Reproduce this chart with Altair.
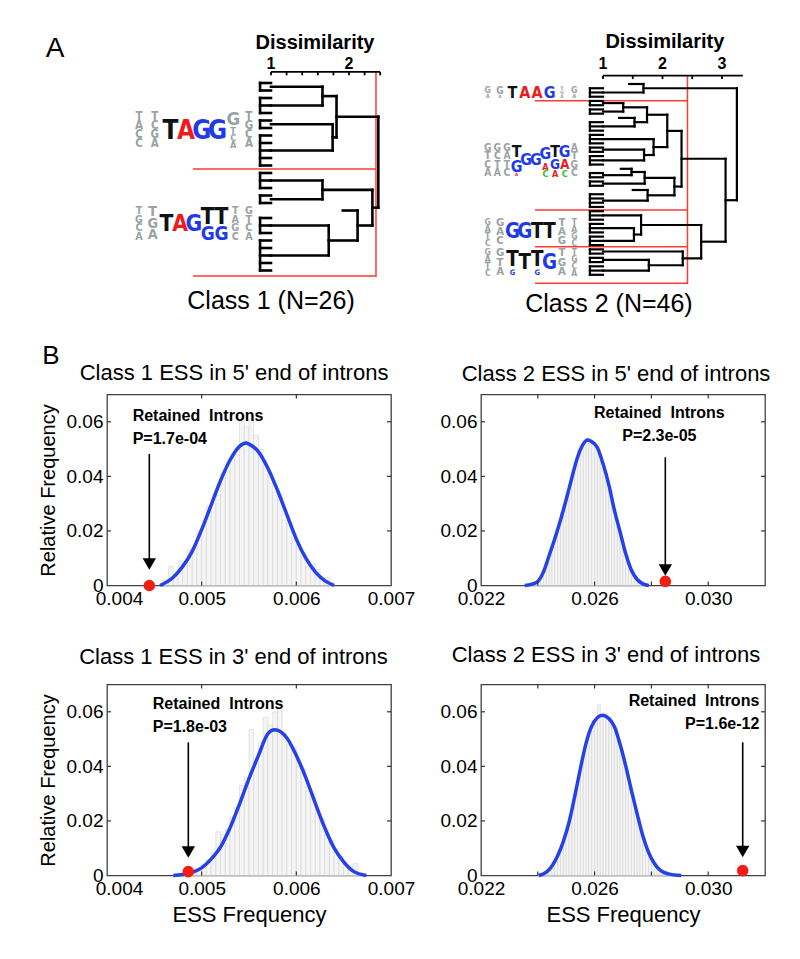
import re
import altair as alt
import pandas as pd

FONT = "Liberation Sans, Arial, Helvetica, sans-serif"
LOGO_FONT = "Liberation Sans Narrow, DejaVu Sans Condensed, Liberation Sans, Arial, sans-serif"
BLUE = "#2741e8"
RED = "#f21d14"
LINE_RED = "#ff3a30"
GRAY = "#9aa2a2"
NUC = {"A": "#ec1c1c", "G": "#1f3be8", "T": "#111111", "C": "#2fbf2f"}

W, H = 284, 191

# ------------------------------------------------------------------ Panel A data
# ('c', n): n leaves merged below dissimilarity 1, ('t', h): branch cut at h,
# (h, left, right): merge at dissimilarity h
TREE_1 = (2.376,
          (1.84, (1.66, ('c', 2), ('c', 3)), (1.79, ('c', 2), ('c', 5))),
          (2.30, (1.66, ('c', 3), ('c', 2)),
                 (2.11, ('t', 1.92), (1.74, ('c', 3), ('c', 5)))))
TREE_2 = (3.25,
          (1.68, ('t', 1.44), ('c', 3)),
          (3.06,
           (2.32,
            (2.08,
             (1.74, (1.34, ('c', 2), ('c', 2)), (1.53, ('t', 1.27), ('c', 3))),
             (1.85, ('c', 3), (1.69, ('c', 2), ('c', 3)))),
            (2.20,
             (1.70, (1.48, ('t', 1.30), ('c', 2)), ('c', 2)),
             (1.75, ('t', 1.50), ('c', 4)))),
           (2.65,
            (1.64, ('c', 3), (1.52, ('c', 3), ('c', 3))),
            (2.34, ('c', 2), (1.77, ('c', 2), ('c', 3))))))
CUT_1, CUT_2 = 2.346, 2.42
SEP_1 = [11.47, 25.73]
SEP_2 = [3.94, 29.7, 38.4, 47.0]

# sequence logos: columns (lowercase = grey flank letters), top leaf, bottom leaf
LOGOS_1 = [
    (["tacc", "tcga", "T", "A", "G", "G", "g4t2c2a2", "tgca"], 3.87, 8.8),
    (["tgca", "tga", "T", "A", "G", "T6G4", "T6G4", "tagc", "gtca"], 16.5, 21.07),
]
LOGOS_2 = [
    (["g6a4", "g7a3", "T", "A", "A", "G", "tga", "g6a4"], 0.7, 3.42),
    (["gtca", "gcta", "gatc", "T5G4A1", "G", "G", "G6A2C2", "T5G3A2", "G5A3C2", "atgc"], 14.15, 21.9),
    (["gatc", "gac", "G", "G", "T", "T", "tag", "tagc"], 31.8, 38.2),
    (["gatc", "gta", "T8G2", "T", "T8G2", "G", "tga", "tgca"], 38.9, 45.3),
]

# ------------------------------------------------------------------ Panel B data
CURVE_1X = [0.00456, 0.0047, 0.0048, 0.0049, 0.0050, 0.0051, 0.0052, 0.0053, 0.0054, 0.00547,
            0.0055, 0.0056, 0.0057, 0.0058, 0.0059, 0.0060, 0.0061, 0.0062, 0.0063, 0.0064]
CURVE_1Y = [0.0, 0.0030, 0.0070, 0.0125, 0.0205, 0.0295, 0.0385, 0.046, 0.051, 0.0522,
            0.0518, 0.049, 0.043, 0.035, 0.026, 0.017, 0.010, 0.005, 0.0018, 0.0]
BARS_1 = [0.002, 0.007, 0.004, 0.009, 0.008, 0.013, 0.014, 0.020, 0.022, 0.029, 0.030, 0.033,
          0.041, 0.042, 0.047, 0.048, 0.060, 0.058, 0.061, 0.055, 0.050, 0.044, 0.041, 0.034,
          0.033, 0.024, 0.023, 0.017, 0.015, 0.012, 0.007, 0.008, 0.006, 0.002, 0.003, 0.001]

CURVE_2X = [0.02354, 0.0238, 0.0240, 0.0242, 0.0244, 0.0246, 0.0248, 0.0250, 0.0252, 0.0254,
            0.0256, 0.02575, 0.0259, 0.0261, 0.0263, 0.0265, 0.0267, 0.0269, 0.0271, 0.0273,
            0.0275, 0.0277, 0.02791]
CURVE_2Y = [0.0, 0.0005, 0.0015, 0.005, 0.011, 0.0172, 0.0240, 0.0315, 0.0395, 0.0470,
            0.0518, 0.0533, 0.0527, 0.0505, 0.0445, 0.0370, 0.0275, 0.0195, 0.0115, 0.0055,
            0.0022, 0.0006, 0.0]
BARS_2 = [0.0006, 0.0012, 0.0020, 0.0028, 0.0058, 0.0080, 0.0118, 0.0140, 0.0185, 0.0212,
          0.0270, 0.0296, 0.0345, 0.0375, 0.0425, 0.0455, 0.0495, 0.0505, 0.0530, 0.0540,
          0.0522, 0.0525, 0.0505, 0.0495, 0.0450, 0.0425, 0.0380, 0.0345, 0.0290, 0.0250,
          0.0205, 0.0175, 0.0130, 0.0108, 0.0072, 0.0058, 0.0032, 0.0024, 0.0010, 0.0007]

CURVE_3X = [0.0047, 0.0048, 0.0049, 0.0050, 0.0051, 0.0052, 0.0053, 0.0054, 0.0055, 0.0056,
            0.0057, 0.00577, 0.0059, 0.0060, 0.0061, 0.0062, 0.0063, 0.0064, 0.0065, 0.0066,
            0.00674]
CURVE_3Y = [0.0, 0.0004, 0.0012, 0.0028, 0.006, 0.0105, 0.0175, 0.0262, 0.0355, 0.044,
            0.052, 0.0534, 0.0504, 0.0440, 0.0359, 0.0265, 0.0175, 0.0100, 0.0050, 0.0016,
            0.0]
BARS_3 = [0.0005, 0.0008, 0.0004, 0.0012, 0.0020, 0.0018, 0.0042, 0.0058, 0.0085, 0.016,
          0.0150, 0.0170, 0.0215, 0.0250, 0.0330, 0.0360, 0.0535, 0.0420, 0.0490, 0.0580,
          0.0550, 0.0600, 0.0615, 0.0520, 0.0480, 0.0470, 0.0400, 0.0390, 0.0310, 0.0300,
          0.0230, 0.0210, 0.0150, 0.0130, 0.0085, 0.0070, 0.0040, 0.0035, 0.0045, 0.0010]

CURVE_4X = [0.02403, 0.0243, 0.0245, 0.0247, 0.0249, 0.0251, 0.0253, 0.0255, 0.0257, 0.0259,
            0.02627, 0.0265, 0.0267, 0.0269, 0.0271, 0.0273, 0.0275, 0.0277, 0.0279, 0.0281,
            0.0283, 0.0286, 0.02905]
CURVE_4Y = [0.0, 0.0012, 0.0035, 0.0072, 0.0125, 0.0195, 0.029, 0.0392, 0.0485, 0.0548,
            0.0587, 0.0575, 0.0545, 0.048, 0.040, 0.031, 0.0225, 0.0145, 0.0085, 0.0045,
            0.002, 0.0006, 0.0]
BARS_4 = [0.0003, 0.0007, 0.0009, 0.0019, 0.0024, 0.0042, 0.0052, 0.0081, 0.0100, 0.0142,
          0.0170, 0.0222, 0.0255, 0.0318, 0.0360, 0.0418, 0.0450, 0.0508, 0.0530, 0.0568,
          0.0570, 0.0625, 0.0580, 0.0592, 0.0575, 0.0580, 0.0550, 0.0540, 0.0495, 0.0465,
          0.0420, 0.0385, 0.0330, 0.0295, 0.0240, 0.0210, 0.0160, 0.0135, 0.0095, 0.0078,
          0.0052, 0.0042, 0.0026, 0.0020, 0.0011, 0.0009, 0.0004, 0.0003, 0.0002, 0.0001]


# ------------------------------------------------------------------ helpers
def tree_segments(tree, comb_x):
    segs = []
    counter = [0]

    def walk(node):
        if node[0] == 'c':
            n = node[1]
            p0 = counter[0]
            counter[0] += n
            if n > 1:
                segs.append((comb_x, comb_x, p0, p0 + n - 1))
            for p in range(p0, p0 + n):
                segs.append((comb_x, 1.0, p, p))
            return p0 + (n - 1) / 2, 1.0
        if node[0] == 't':
            p = counter[0]
            counter[0] += 1
            return p, node[1]
        h, a, b = node
        ca, ha = walk(a)
        cb, hb = walk(b)
        segs.append((ha, h, ca, ca))
        segs.append((hb, h, cb, cb))
        segs.append((h, h, ca, cb))
        return (ca + cb) / 2, h

    walk(tree)
    return pd.DataFrame(segs, columns=["x", "x2", "y", "y2"])


def logo_rows(logos, g):
    leaf_px = H / (g["ydom"][1] - g["ydom"][0])
    pos_px = W / (g["ldom"][1] - g["ldom"][0])
    rows = []
    for cols, top, bottom in logos:
        n = len(cols)
        hpx = (bottom - top) * leaf_px
        step = g["span"] / (n - 1)
        cap = step * pos_px * 1.65
        for c, col in enumerate(cols):
            toks = re.findall(r"([A-Za-z])(\d?)", col)
            given = sum(int(d) / 10 for _, d in toks if d)
            nfree = sum(1 for _, d in toks if not d)
            share = (1 - given) / nfree if nfree else 0
            f0 = 0.0
            for ch, d in toks:
                w = int(d) / 10 if d else share
                ratio = 0.72 if ch.isupper() else 0.8
                rows.append(dict(pos=c * step, y=top + (f0 + w / 2) * (bottom - top),
                                 letter=ch.upper(),
                                 color=NUC[ch] if ch.isupper() else GRAY,
                                 fs=min(w * hpx / ratio, cap)))
                f0 += w
    return pd.DataFrame(rows)


def dendro_panel(tree, logos, cut, seps, g):
    xs = alt.Scale(domain=g["xdom"], nice=False, zero=False)
    ys = alt.Scale(domain=g["ydom"], reverse=True, nice=False, zero=False)

    def X(f):
        return alt.X(f, type="quantitative", scale=xs, axis=None)

    def Y(f):
        return alt.Y(f, type="quantitative", scale=ys, axis=None)

    segs = tree_segments(tree, g["comb"])
    a0, a1, astep, ay, tlen = g["axis"]
    red = [(cut, cut, ay, g["red_bottom"])] + [(g["red_from"], cut, s, s) for s in seps]
    red_df = pd.DataFrame(red, columns=["x", "x2", "y", "y2"])
    ax = [(a0, a1, ay, ay)]
    k = 0
    while a0 + k * astep <= a1 + 1e-9:
        t = round(a0 + k * astep, 4)
        ax.append((t, t, ay, ay + tlen))
        k += 1
    ax_df = pd.DataFrame(ax, columns=["x", "x2", "y", "y2"])

    red_layer = alt.Chart(red_df).mark_rule(color=LINE_RED, strokeWidth=1.5).encode(
        x=X("x"), x2="x2", y=Y("y"), y2="y2")
    tree_layer = alt.Chart(segs).mark_rule(color="black", strokeWidth=g["lw"], strokeCap="square").encode(
        x=X("x"), x2="x2", y=Y("y"), y2="y2")
    ax_layer = alt.Chart(ax_df).mark_rule(color="black", strokeWidth=1.8).encode(
        x=X("x"), x2="x2", y=Y("y"), y2="y2")
    lab_df = pd.DataFrame({"x": g["labels"], "y": [g["label_y"]] * len(g["labels"]),
                           "t": [str(v) for v in g["labels"]]})
    lab_layer = alt.Chart(lab_df).mark_text(font=FONT, fontSize=16, fontWeight="bold",
                                            baseline="alphabetic", color="black").encode(
        x=X("x"), y=Y("y"), text="t:N")
    ttl_df = pd.DataFrame({"x": [g["title_xy"][0]], "y": [g["title_xy"][1]], "t": ["Dissimilarity"]})
    ttl_layer = alt.Chart(ttl_df).mark_text(font=FONT, fontSize=20, fontWeight="bold",
                                            baseline="alphabetic", color="black").encode(
        x=X("x"), y=Y("y"), text="t:N")
    cap_df = pd.DataFrame({"x": [g["cap_xy"][0]], "y": [g["cap_xy"][1]], "t": [g["caption"]]})
    cap_layer = alt.Chart(cap_df).mark_text(font=FONT, fontSize=25, baseline="alphabetic",
                                            color="black").encode(
        x=X("x"), y=Y("y"), text="t:N")
    layers = [red_layer, tree_layer, ax_layer, lab_layer, ttl_layer, cap_layer]
    if "letter" in g:
        lt, lx, ly = g["letter"]
        let_layer = alt.Chart(pd.DataFrame({"x": [lx], "y": [ly], "t": [lt]})).mark_text(
            font=FONT, fontSize=28, baseline="alphabetic", color="black").encode(
            x=X("x"), y=Y("y"), text="t:N")
        layers.append(let_layer)
    logo_df = logo_rows(logos, g)
    logo_layer = alt.Chart(logo_df).mark_text(font=LOGO_FONT, fontWeight="bold", baseline="middle",
                                              align="center").encode(
        x=alt.X("pos:Q", scale=alt.Scale(domain=g["ldom"], nice=False, zero=False), axis=None),
        y=Y("y"), text="letter:N",
        color=alt.Color("color:N", scale=None),
        size=alt.Size("fs:Q", scale=None))
    layers.append(logo_layer)
    return alt.layer(*layers).resolve_scale(x="independent").properties(
        width=W, height=H, view=alt.ViewBackground(strokeOpacity=0))


G1 = dict(xdom=[-1.1026, 2.5385], ydom=[2.8667, 28.3333], ldom=[-2.038, 16.051], span=7,
          comb=0.86, lw=2.6, axis=(1.0, 2.4, 0.2, -1.47, 0.45), labels=[1, 2], label_y=-1.9,
          title_xy=(1.564, -4.53), cap_xy=(1.0, 30.13), caption="Class 1 (N=26)",
          red_from=0.0, red_bottom=25.87, letter=("A", -1.769, -3.47))
G2 = dict(xdom=[-1.0504, 3.7227], ydom=[4.835, 49.882], ldom=[-0.5417, 22.417], span=7,
          comb=0.78, lw=2.2, axis=(1.0, 3.35, 0.5, -1.96, 0.8), labels=[1, 2, 3], label_y=-3.54,
          title_xy=(2.04, -8.42), cap_xy=(1.1, 53.8), caption="Class 2 (N=46)",
          red_from=-0.143, red_bottom=47.2)


def hist_panel(p):
    x0, x1 = p["xdom"]
    xs = alt.Scale(domain=[x0, x1], nice=False, zero=False)
    ys = alt.Scale(domain=[0, 0.07], nice=False)
    xkw = dict(values=p["xlabels"], format=".3f", labelFlush=False, title=p["xtitle"],
               titlePadding=6, labelPadding=4)
    if p["shift_first"]:
        xkw["labelOffset"] = {"condition": {"test": "datum.value < %g" % (x0 + 1e-4), "value": 12},
                              "value": 0}
    xaxis = alt.Axis(**xkw)
    yaxis = alt.Axis(values=[0, 0.02, 0.04, 0.06],
                     labelExpr="datum.value == 0 ? '0' : format(datum.value, '.2f')",
                     title=p["ytitle"], titlePadding=8, labelPadding=4)

    def X(f):
        return alt.X(f, type="quantitative", scale=xs, axis=xaxis)

    def Y(f):
        return alt.Y(f, type="quantitative", scale=ys, axis=yaxis)

    start, width, vals = p["bars"]
    bars = pd.DataFrame({"lo": [start + i * width for i in range(len(vals))],
                         "hi": [start + (i + 1) * width for i in range(len(vals))],
                         "h": vals, "zero": [0.0] * len(vals)})
    bar_layer = alt.Chart(bars).mark_rect(fill="#f5f5f5", stroke="#d4d4d4", strokeWidth=0.6).encode(
        x=X("lo"), x2="hi", y=Y("h"), y2="zero")
    curve = pd.DataFrame({"x": p["curve"][0], "y": p["curve"][1]})
    curve_layer = alt.Chart(curve).mark_line(color=BLUE, strokeWidth=3.5, interpolate="monotone").encode(
        x=X("x"), y=Y("y"))
    xl = 4.0 / W * (x1 - x0)
    yl = 4.0 / H * 0.07
    ticks = []
    for t in p["xticks"]:
        ticks.append((t, t, 0.0, yl))
        ticks.append((t, t, 0.07, 0.07 - yl))
    for t in [0.02, 0.04, 0.06]:
        ticks.append((x0, x0 + xl, t, t))
        ticks.append((x1, x1 - xl, t, t))
    tick_layer = alt.Chart(pd.DataFrame(ticks, columns=["x", "x2", "y", "y2"])).mark_rule(
        color="#333333", strokeWidth=1.2).encode(x=X("x"), x2="x2", y=Y("y"), y2="y2")
    ax_, atop, abot, ahead = p["arrow"]
    arrow_layer = alt.Chart(pd.DataFrame({"x": [ax_], "y": [atop], "y2": [abot]})).mark_rule(
        color="black", strokeWidth=1.6).encode(x=X("x"), y=Y("y"), y2="y2")
    head_layer = alt.Chart(pd.DataFrame({"x": [ax_], "y": [ahead]})).mark_point(
        shape="triangle-down", filled=True, color="black", opacity=1, size=180).encode(
        x=X("x"), y=Y("y"))
    dot_layer = alt.Chart(pd.DataFrame({"x": [p["dot"][0]], "y": [p["dot"][1]]})).mark_circle(
        color=RED, opacity=1, size=135).encode(x=X("x"), y=Y("y"))
    tx, talign, ty1, ty2, ptxt = p["text"]
    txt_df = pd.DataFrame({"x": [tx, tx], "y": [ty1, ty2], "t": ["Retained\u00a0 Introns", ptxt]})
    txt_layer = alt.Chart(txt_df).mark_text(font=FONT, fontSize=16, fontWeight="bold", align=talign,
                                            baseline="alphabetic", color="black").encode(
        x=X("x"), y=Y("y"), text="t:N")
    ttx, tty = p["title_xy"]
    title_layer = alt.Chart(pd.DataFrame({"x": [ttx], "y": [tty], "t": [p["title"]]})).mark_text(
        font=FONT, fontSize=22, baseline="alphabetic", align="center", color="black").encode(
        x=X("x"), y=Y("y"), text="t:N")
    layers = [bar_layer, curve_layer, tick_layer, arrow_layer, head_layer, dot_layer, txt_layer,
              title_layer]
    if "letter" in p:
        lt, lx, ly = p["letter"]
        layers.append(alt.Chart(pd.DataFrame({"x": [lx], "y": [ly], "t": [lt]})).mark_text(
            font=FONT, fontSize=26, baseline="alphabetic", color="black").encode(
            x=X("x"), y=Y("y"), text="t:N"))
    return alt.layer(*layers).properties(width=W, height=H)


P1 = dict(title="Class 1 ESS in 5' end of introns", title_xy=(0.005342, 0.0753), xdom=[0.004, 0.007],
          xlabels=[0.004, 0.005, 0.006, 0.007], xticks=[0.005, 0.006], shift_first=True,
          bars=(0.0046, 0.00005, BARS_1), curve=(CURVE_1X, CURVE_1Y), dot=(0.004447, 0.0),
          arrow=(0.004447, 0.0482, 0.0095, 0.0079), text=(0.004271, "left", 0.0604, 0.0519, "P=1.7e-04"),
          ytitle="Relative Frequency", xtitle=None, letter=("B", 0.003408, 0.0812))
P2 = dict(title="Class 2 ESS in 5' end of introns", title_xy=(0.026754, 0.0751), xdom=[0.022, 0.032],
          xlabels=[0.022, 0.026, 0.030], xticks=[0.024, 0.026, 0.028, 0.030], shift_first=False,
          bars=(0.0238, 0.0001, BARS_2), curve=(CURVE_2X, CURVE_2Y), dot=(0.02849, 0.0015),
          arrow=(0.02849, 0.047, 0.0075, 0.0057), text=(0.02828, "center", 0.0613, 0.0531, "P=2.3e-05"),
          ytitle=None, xtitle=None)
P3 = dict(title="Class 1 ESS in 3' end of introns", title_xy=(0.005336, 0.0775), xdom=[0.004, 0.007],
          xlabels=[0.004, 0.005, 0.006, 0.007], xticks=[0.005, 0.006], shift_first=True,
          bars=(0.0047, 0.00005, BARS_3), curve=(CURVE_3X, CURVE_3Y), dot=(0.004859, 0.0014),
          arrow=(0.004859, 0.0488, 0.0105, 0.0086), text=(0.004483, "left", 0.0610, 0.0525, "P=1.8e-03"),
          ytitle="Relative Frequency", xtitle="ESS Frequency")
P4 = dict(title="Class 2 ESS in 3' end of introns", title_xy=(0.026401, 0.0782), xdom=[0.022, 0.032],
          xlabels=[0.022, 0.026, 0.030], xticks=[0.024, 0.026, 0.028, 0.030], shift_first=False,
          bars=(0.0240, 0.0001, BARS_4), curve=(CURVE_4X, CURVE_4Y), dot=(0.031215, 0.0018),
          arrow=(0.031215, 0.0488, 0.0105, 0.0088), text=(0.0318, "right", 0.0620, 0.0537, "P=1.6e-12"),
          ytitle=None, xtitle="ESS Frequency")

panels = [dendro_panel(TREE_1, LOGOS_1, CUT_1, SEP_1, G1),
          dendro_panel(TREE_2, LOGOS_2, CUT_2, SEP_2, G2),
          hist_panel(P1), hist_panel(P2), hist_panel(P3), hist_panel(P4)]

chart = alt.ConcatChart(concat=panels, columns=2, spacing={"row": 99, "column": 90},
                        bounds="flush").properties(
    padding={"left": 29, "top": 23.5, "right": 5, "bottom": 5}, background="white")

chart = chart.configure(font=FONT).configure_view(
    stroke="#404040", strokeWidth=1.3).configure_axis(
    labelFont=FONT, titleFont=FONT, labelColor="black", titleColor="black", labelFontSize=19,
    titleFontSize=20, titleFontWeight="normal", tickSize=0, domain=False, grid=False).configure_axisX(
    titleFontSize=22)

chart.save("out.html", embed_options={"renderer": "svg", "actions": False})
